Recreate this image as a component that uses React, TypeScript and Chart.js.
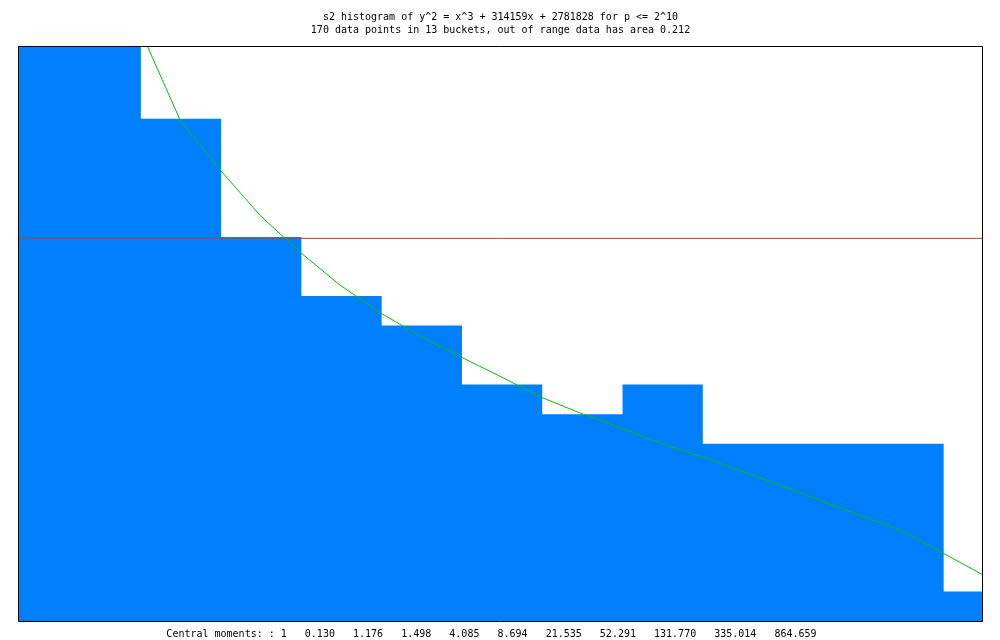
import React, { useEffect, useRef } from "react";
import { Chart, registerables } from "chart.js";

Chart.register(...registerables);

// Bucket left edges (in bucket units) and the right end of the last bucket
const bucketEdges = [0, 1.53, 2.53, 3.53, 4.53, 5.53, 6.53, 7.53, 8.53, 9.53, 10.53, 11.53, 12.02];
// Counts per bucket (first one runs off the top of the plot)
const bucketCounts = [20.5, 17, 13, 11, 10, 8, 7, 8, 6, 6, 6, 1];
// Expected (mean) level line
const meanLevel = 12.95;
// Theoretical density curve
const curveX = [1.52, 1.61, 2.02, 2.53, 3.01, 3.51, 4.01, 4.52, 5.01, 5.52, 6.0, 6.51, 7.0, 7.51, 8.0, 8.52, 9.49, 10.51, 10.99, 11.52, 12.02];
const curveY = [20.0, 19.46, 16.95, 15.23, 13.74, 12.49, 11.37, 10.42, 9.64, 8.93, 8.29, 7.58, 7.04, 6.53, 6.02, 5.55, 4.6, 3.55, 3.08, 2.3, 1.56];

const titleLines = [
  "s2 histogram of y^2 = x^3 + 314159x + 2781828 for p <= 2^10",
  "170 data points in 13 buckets, out of range data has area 0.212",
];
const momentsLabel = "Central moments: : 1";
const momentValues = ["0.130", "1.176", "1.498", "4.085", "8.694", "21.535", "52.291", "131.770", "335.014", "864.659"];

const X_MAX = 12.02;
const Y_MAX = 19.46;
const FONT = "'DejaVu Sans Mono', monospace";

const framePlugin = {
  id: "frame",
  afterDatasetsDraw(chart: any) {
    const { ctx, chartArea } = chart;
    const { left, top, right, bottom } = chartArea;
    ctx.save();
    ctx.strokeStyle = "#000";
    ctx.lineWidth = 1;
    ctx.beginPath();
    ctx.moveTo(left + 0.5, top + 0.5);
    ctx.lineTo(right - 0.5, top + 0.5);
    ctx.lineTo(right - 0.5, bottom + 0.5);
    ctx.lineTo(left + 0.5, bottom + 0.5);
    ctx.closePath();
    ctx.stroke();
    ctx.restore();
  },
};

export default function App() {
  const canvasRef = useRef<HTMLCanvasElement | null>(null);

  useEffect(() => {
    const canvas = canvasRef.current;
    if (!canvas) return;

    const histPoints = bucketEdges.map((x, i) => ({
      x,
      y: bucketCounts[Math.min(i, bucketCounts.length - 1)],
    }));
    const meanPoints = [
      { x: 0, y: meanLevel },
      { x: X_MAX, y: meanLevel },
    ];
    const curvePoints = curveX.map((x, i) => ({ x, y: curveY[i] }));
    const footer = [momentsLabel, ...momentValues].join("   ") + "   ";

    const chart = new Chart(canvas, {
      type: "line",
      data: {
        datasets: [
          {
            data: histPoints,
            stepped: true,
            fill: "origin",
            backgroundColor: "#0080ff",
            borderColor: "#0080ff",
            borderWidth: 0,
            pointRadius: 0,
            order: 3,
          },
          {
            data: meanPoints,
            borderColor: "#c8400a",
            borderWidth: 1,
            pointRadius: 0,
            fill: false,
            order: 2,
          },
          {
            data: curvePoints,
            borderColor: "#00c000",
            borderWidth: 1,
            pointRadius: 0,
            fill: false,
            tension: 0,
            order: 1,
          },
        ],
      },
      options: {
        responsive: false,
        animation: false,
        devicePixelRatio: 1,
        layout: { padding: { left: 18, right: 17, top: 0, bottom: 0 } },
        scales: {
          x: { type: "linear", min: 0, max: X_MAX, display: false },
          y: { type: "linear", min: 0, max: Y_MAX, display: false },
        },
        plugins: {
          legend: { display: false },
          tooltip: { enabled: false },
          title: {
            display: true,
            text: titleLines,
            color: "#000",
            font: { family: FONT, size: 10, weight: "normal", lineHeight: 1.3 },
            padding: { top: 11, bottom: 9 },
          },
          subtitle: {
            display: true,
            position: "bottom",
            text: footer,
            color: "#000",
            font: { family: FONT, size: 10, weight: "normal", lineHeight: 1.2 },
            padding: { top: 7, bottom: 0 },
          },
        },
      },
      plugins: [framePlugin],
    } as any);

    return () => chart.destroy();
  }, []);

  return (
    <div style={{ position: "fixed", left: 0, top: 0, width: 1000, height: 640, background: "#fff" }}>
      <canvas ref={canvasRef} width={1000} height={640} style={{ display: "block" }} />
    </div>
  );
}
